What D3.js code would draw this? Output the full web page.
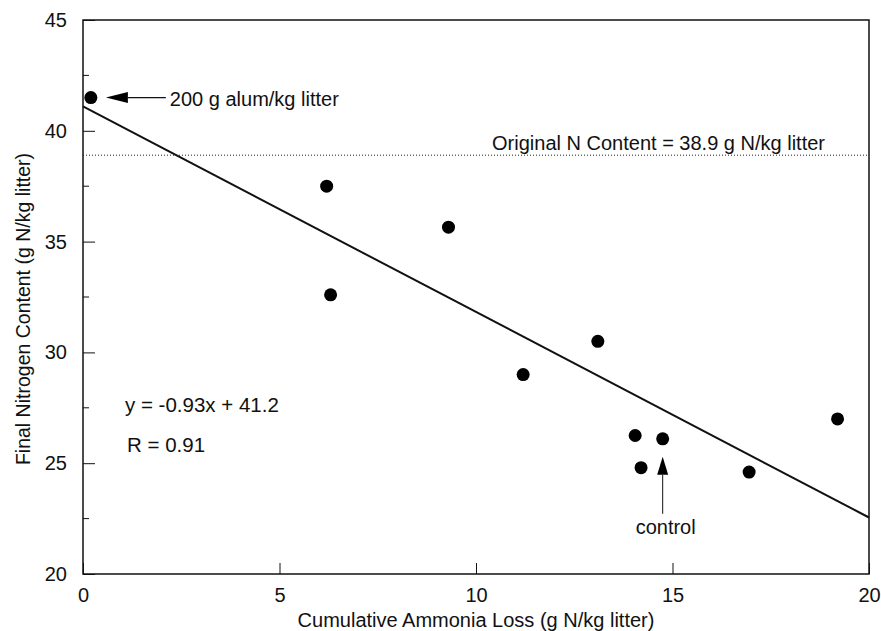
<!DOCTYPE html>
<html>
<head>
<meta charset="utf-8">
<script src="https://cdn.jsdelivr.net/npm/d3@7"></script>
<style>
  body { margin: 0; background: #fff; }
  text { font-family: "Liberation Sans", Arial, sans-serif; fill: #111; }
</style>
</head>
<body>
<svg id="chart" width="881" height="631"></svg>
<script>
// datos
var ammoniaLoss = [0.2, 6.2, 6.3, 9.3, 11.2, 13.1, 14.05, 14.2, 14.75, 16.95, 19.2];
var finalN      = [41.5, 37.5, 32.6, 35.65, 29.0, 30.5, 26.25, 24.8, 26.1, 24.6, 27.0];
var fitX = [0, 20];           // recta de regresion y = -0.93x + 41.2
var fitY = [41.1, 22.55];
var originalN = 38.9;
var xTicks = [0, 5, 10, 15, 20];
var yTicks = [20, 25, 30, 35, 40, 45];
var yMinor = [22.5, 27.5, 32.5, 37.5, 42.5];

var svg = d3.select("#chart");
var m = {left: 83, right: 869, top: 20, bottom: 574};
var fs = 20;                  // tamaño de letra

var x = d3.scaleLinear().domain([0, 20]).range([m.left, m.right]);
var y = d3.scaleLinear().domain([20, 45]).range([m.bottom, m.top]);

// marco
svg.append("rect")
   .attr("x", m.left).attr("y", m.top)
   .attr("width", m.right - m.left).attr("height", m.bottom - m.top)
   .attr("fill", "none").attr("stroke", "#111").attr("stroke-width", 1.5);

// eje x (ticks hacia adentro)
var xAxis = svg.append("g").attr("transform", "translate(0," + m.bottom + ")")
   .call(d3.axisBottom(x).tickValues(xTicks).tickSizeInner(-11).tickSizeOuter(0).tickPadding(14));
xAxis.select(".domain").remove();
xAxis.selectAll("text").attr("font-size", fs).attr("font-family", "Liberation Sans, Arial, sans-serif").attr("fill", "#111");
xAxis.selectAll("line").attr("stroke", "#111");

// eje y
var yAxis = svg.append("g").attr("transform", "translate(" + m.left + ",0)")
   .call(d3.axisLeft(y).tickValues(yTicks).tickSizeInner(-12).tickSizeOuter(0).tickPadding(16));
yAxis.select(".domain").remove();
yAxis.selectAll("text").attr("font-size", fs).attr("font-family", "Liberation Sans, Arial, sans-serif").attr("fill", "#111");
yAxis.selectAll("line").attr("stroke", "#111");

svg.append("g").selectAll("line").data(yMinor).join("line")
   .attr("x1", m.left).attr("x2", m.left + 6)
   .attr("y1", d => y(d)).attr("y2", d => y(d))
   .attr("stroke", "#111");

// linea punteada del contenido original
svg.append("line")
   .attr("x1", x(0)).attr("x2", x(20))
   .attr("y1", y(originalN)).attr("y2", y(originalN))
   .attr("stroke", "#222").attr("stroke-width", 1).attr("stroke-dasharray", "1,2");
svg.append("text")
   .attr("x", 825).attr("y", y(originalN) - 5)
   .attr("text-anchor", "end").attr("font-size", fs)
   .text("Original N Content = 38.9 g N/kg litter");

// recta de regresion
svg.append("line")
   .attr("x1", x(fitX[0])).attr("y1", y(fitY[0]))
   .attr("x2", x(fitX[1])).attr("y2", y(fitY[1]))
   .attr("stroke", "#111").attr("stroke-width", 2);

// puntos
svg.append("g").selectAll("circle").data(ammoniaLoss).join("circle")
   .attr("cx", d => x(d))
   .attr("cy", (d, i) => y(finalN[i]))
   .attr("r", 6.5)
   .attr("fill", "#000");

// anotacion alumbre
var ax = x(ammoniaLoss[0]), ay = y(finalN[0]);
svg.append("path")
   .attr("d", "M" + (ax + 15) + "," + ay + "L" + (ax + 37) + "," + (ay - 5.5) + "L" + (ax + 37) + "," + (ay + 5.5) + "Z")
   .attr("fill", "#000");
svg.append("line")
   .attr("x1", ax + 37).attr("x2", ax + 75).attr("y1", ay).attr("y2", ay)
   .attr("stroke", "#111").attr("stroke-width", 1.2);
svg.append("text")
   .attr("x", ax + 79).attr("y", ay + 8)
   .attr("font-size", fs)
   .text("200 g alum/kg litter");

// anotacion control
var cx = x(ammoniaLoss[8]), cy = y(finalN[8]);
svg.append("path")
   .attr("d", "M" + cx + "," + (cy + 18) + "L" + (cx - 5.5) + "," + (cy + 36) + "L" + (cx + 5.5) + "," + (cy + 36) + "Z")
   .attr("fill", "#000");
svg.append("line")
   .attr("x1", cx).attr("x2", cx).attr("y1", cy + 36).attr("y2", cy + 75)
   .attr("stroke", "#111").attr("stroke-width", 1);
svg.append("text")
   .attr("x", cx + 3).attr("y", cy + 95)
   .attr("text-anchor", "middle").attr("font-size", fs)
   .text("control");

// ecuacion
svg.append("text").attr("x", 125).attr("y", 412).attr("font-size", 20.5).text("y = -0.93x + 41.2");
svg.append("text").attr("x", 127).attr("y", 452).attr("font-size", 20.5).text("R = 0.91");

// titulos de ejes
svg.append("text")
   .attr("x", (m.left + m.right) / 2).attr("y", 627)
   .attr("text-anchor", "middle").attr("font-size", fs)
   .text("Cumulative Ammonia Loss (g N/kg litter)");
svg.append("text")
   .attr("transform", "translate(30,309) rotate(-90)")
   .attr("text-anchor", "middle").attr("font-size", 19.5)
   .text("Final Nitrogen Content (g N/kg litter)");
</script>
</body>
</html>
